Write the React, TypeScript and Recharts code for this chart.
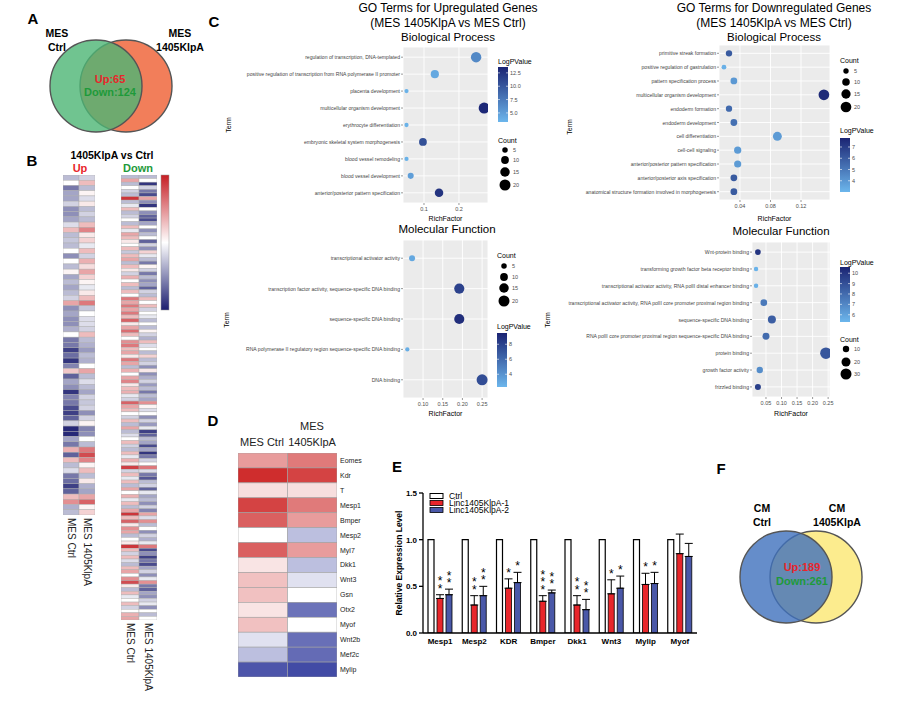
import React from "react";
import {
  ScatterChart,
  Scatter,
  XAxis,
  YAxis,
  ZAxis,
  CartesianGrid,
  BarChart,
  Bar,
  ErrorBar,
  LabelList,
} from "recharts";

const FONT = "'Liberation Sans', Arial, Helvetica, sans-serif";

// ---------- A / F venn
const vennASets = ["MES Ctrl", "MES 1405KlpA"];
const vennAUp = 65;
const vennADown = 124;
const vennFSets = ["CM Ctrl", "CM 1405KlpA"];
const vennFUp = 189;
const vennFDown = 261;

// ---------- B heatmap (scaled expression, -1..1)
const bCols = ["MES Ctrl", "MES 1405KlpA"];
const upCtrl = [
  -0.3, 0, -0.6, -0.4, -0.4, -0.2, -0.5, -0.5, -0.4, -0.15,
  0.3, -0.3, -0.25, -0.3, 0, -0.5, 0, -0.3, 0.05, -0.4,
  -0.3, -0.4, -0.3, -0.2, 0.4, -0.5, -0.4, -0.5, -0.5, -0.35,
  0, -0.6, -0.6, -0.85, -0.65, -0.9, -0.55, 0.25, -0.7, -0.4,
  -0.5, -0.9, -0.55, -0.6, -0.8, -0.85, -0.7, -0.2, -0.95, -0.95,
  -0.4, -0.6, 0.35, -0.7, 0.3, -0.3, -0.15, -0.6, -0.65, -0.85,
  -0.7, 0.3, 0.5, -0.35, -0.3,
];
const upKd = [
  -0.2, 0.3, -0.3, 0.05, -0.15, 0.1, -0.3, -0.2, -0.3, 0.3,
  0.55, 0.1, 0.2, -0.1, 0.3, -0.2, 0.35, 0.15, 0.4, 0.2,
  0.05, -0.1, 0.1, 0.3, 0.6, -0.25, 0, -0.15, -0.15, -0.2,
  0.3, -0.3, -0.35, -0.45, -0.3, -0.35, 0, 0.4, -0.3, -0.15,
  -0.3, -0.4, -0.2, -0.25, -0.2, -0.5, -0.2, 0.05, -0.55, -0.5,
  0, -0.3, 0.6, 0.8, 0.55, 0.05, 0.3, -0.3, 0.1, -0.35,
  -0.4, 0.4, 0.7, 0.05, 0.2,
];
const downCtrl = [
  -0.3, 0.4, -0.3, 0, -0.2, -0.3, 0.9, -0.3, -0.1, 0.3,
  -0.3, -0.2, 0, -0.3, 0.3, -0.1, 0.4, 0.3, 0.1, 0,
  0.3, -0.25, 0.3, 0.4, -0.3, 0.3, 0.1, -0.2, 0.35, 0,
  0.3, -0.3, 0.3, 0, 0.6, 0.4, 0.6, 0.4, 0.6, 0.3,
  0.7, 0.1, 0.4, 0.65, 0.3, 0, 0.5, 0.6, 0.3, 0.4,
  0.1, 0.6, 0.4, -0.3, 0.35, 0, 0.4, 0.55, 0.1, 0.3,
  0.35, -0.1, -0.2, 0.7, 0.4, 0.3, 0, -0.2, 0.3, -0.3,
  0.4, -0.3, -0.15, 0, 0.3, -0.2, -0.3, 0.3, -0.1, 0.35,
  0.1, 0.85, -0.2, 0.3, -0.1, 0.3, -0.3, 0.4, 0, 0.35,
  -0.1, 0.3, -0.3, 0.4, 0.9, 0.3, 0.7, 0.1, 0.5, 0.4,
  -0.3, 0, 0.1, 0.9, 0.3, -0.2, 0.3, -0.15, -0.3, 0.3,
  0.4, 0, 0.5, 0.8, 0.1, -0.3, 0.3, -0.1, 0, 0.3,
  -0.2, 0, 0.35, 0.4,
];
const downKd = [
  -0.3, 0, -0.9, -0.2, -0.6, -0.8, 0.4, -0.5, -0.9, 0,
  -0.5, -0.7, -0.8, -0.4, 0, -0.5, -0.3, 0, -0.7, -0.2,
  -0.5, 0.2, -0.1, -0.3, -0.6, 0.05, -0.2, -0.6, -0.3, -0.5,
  -0.4, -0.7, -0.2, -0.3, 0.3, 0, 0.3, -0.2, 0, -0.1,
  -0.3, 0, -0.3, 0.05, -0.2, -0.35, 0.3, -0.15, 0, -0.3,
  0.2, -0.3, -0.2, -0.5, 0.1, -0.5, -0.35, -0.2, -0.45, -0.3,
  -0.6, -0.3, -0.4, 0.5, 0.05, -0.15, 0, -0.5, -0.2, -0.45,
  -0.1, -0.85, -0.7, -0.3, -0.4, -0.8, -0.4, -0.9, -0.6, -0.2,
  0, 0.6, -0.15, -0.6, -0.75, -0.3, -0.2, -0.7, -0.1, -0.4,
  -0.3, -0.5, -0.2, -0.55, 0.4, -0.15, 0.5, -0.3, 0, -0.5,
  -0.2, -0.35, -0.1, 0.6, -0.8, -0.5, -0.85, -0.6, -0.8, -0.4,
  -0.2, -0.5, -0.1, 0.5, -0.6, -0.7, -0.4, -0.5, -0.2, -0.1,
  -0.5, 0, -0.3, 0,
];

// ---------- C GO dot plots
const upBpTerms = [
  "regulation of transcription, DNA-templated",
  "positive regulation of transcription from RNA polymerase II promoter",
  "placenta development",
  "multicellular organism development",
  "erythrocyte differentiation",
  "embryonic skeletal system morphogenesis",
  "blood vessel remodeling",
  "blood vessel development",
  "anterior/posterior pattern specification",
];
const upBpRich = [0.249, 0.131, 0.05, 0.272, 0.05, 0.097, 0.05, 0.062, 0.143];
const upBpCount = [18, 11, 3, 20, 3, 10, 3, 6, 12];
const upBpLogP = [6.5, 4.3, 3.6, 13.3, 3.6, 10.5, 3.6, 5.0, 12.5];

const downBpTerms = [
  "primitive streak formation",
  "positive regulation of gastrulation",
  "pattern specification process",
  "multicellular organism development",
  "endoderm formation",
  "endoderm development",
  "cell differentiation",
  "cell-cell signaling",
  "anterior/posterior pattern specification",
  "anterior/posterior axis specification",
  "anatomical structure formation involved in morphogenesis",
];
const downBpRich = [0.0256, 0.019, 0.032, 0.15, 0.0256, 0.032, 0.089, 0.037, 0.037, 0.032, 0.032];
const downBpCount = [7, 4, 8, 20, 7, 8, 14, 9, 9, 8, 8];
const downBpLogP = [6.0, 3.2, 4.0, 7.6, 5.5, 5.3, 3.9, 3.9, 3.9, 6.0, 6.0];

const upMfTerms = [
  "transcriptional activator activity",
  "transcription factor activity, sequence-specific DNA binding",
  "sequence-specific DNA binding",
  "RNA polymerase II regulatory region sequence-specific DNA binding",
  "DNA binding",
];
const upMfRich = [0.072, 0.192, 0.192, 0.06, 0.25];
const upMfCount = [6, 17, 17, 3, 20];
const upMfLogP = [3.0, 8.0, 9.0, 2.7, 7.5];

const downMfTerms = [
  "Wnt-protein binding",
  "transforming growth factor beta receptor binding",
  "transcriptional activator activity, RNA polII distal enhancer binding",
  "transcriptional activator activity, RNA polII core promoter proximal region binding",
  "sequence-specific DNA binding",
  "RNA polII core promoter proximal region sequence-specific DNA binding",
  "protein binding",
  "growth factor activity",
  "frizzled binding",
];
const downMfRich = [0.024, 0.018, 0.018, 0.043, 0.069, 0.05, 0.243, 0.03, 0.024];
const downMfCount = [8, 5, 5, 11, 16, 12, 33, 10, 9];
const downMfLogP = [10.0, 5.4, 5.5, 7.5, 8.5, 8.0, 8.8, 6.8, 9.6];

// ---------- D heatmap
const dGenes = ["Eomes", "Kdr", "T", "Mesp1", "Bmper", "Mesp2", "Myl7", "Dkk1", "Wnt3", "Gsn", "Otx2", "Myof", "Wnt2b", "Mef2c", "Mylip"];
const dCtrl = [0.45, 0.95, 0.15, 0.85, 0.72, 0, 0.72, 0.12, 0.28, 0.28, 0.12, 0.28, -0.15, -0.32, -0.85];
const dKd = [0.6, 0.85, 0.15, 0.6, 0.45, -0.32, 0.45, -0.32, -0.15, 0, -0.7, 0, -0.72, -0.74, -0.9];

// ---------- E qPCR
const eGenes = ["Mesp1", "Mesp2", "KDR", "Bmper", "Dkk1", "Wnt3", "Mylip", "Myof"];
const eCtrl = [1, 1, 1, 1, 1, 1, 1, 1];
const eKd1 = [0.37, 0.3, 0.48, 0.34, 0.3, 0.42, 0.52, 0.85];
const eKd1Err = [0.04, 0.1, 0.1, 0.06, 0.1, 0.15, 0.12, 0.21];
const eKd2 = [0.41, 0.4, 0.54, 0.43, 0.25, 0.48, 0.53, 0.82];
const eKd2Err = [0.06, 0.1, 0.11, 0.03, 0.11, 0.13, 0.12, 0.14];
const eKd1Stars = ["**", "**", "*", "***", "**", "*", "*", ""];
const eKd2Stars = ["**", "**", "*", "**", "**", "*", "*", ""];
const eSeries = ["Ctrl", "Linc1405KlpA-1", "Linc1405KlpA-2"];

// ---------- colour helpers
const mix = (a: number[], b: number[], t: number) =>
  `rgb(${a.map((x, i) => Math.round(x + (b[i] - x) * Math.max(0, Math.min(1, t)))).join(",")})`;
const WHITE = [255, 255, 255];
const divB = (v: number) => (v >= 0 ? mix(WHITE, [198, 30, 36], v) : mix(WHITE, [28, 30, 112], -v));
const divD = (v: number) => (v >= 0 ? mix(WHITE, [204, 34, 34], v) : mix(WHITE, [45, 55, 155], -v));
const GO_LO = [108, 182, 236];
const GO_HI = [27, 36, 115];
const goColor = (v: number, dom: number[]) => mix(GO_LO, GO_HI, (v - dom[0]) / (dom[1] - dom[0]));

// ---------- components
function Venn({ left, top, sets, fills }: { left: number; top: number; sets: string[]; fills: string[] }) {
  const data = sets.map((s, i) => ({ set: s, pos: i, y: 0 }));
  const circ = (fill: string, op: number) => (p: any) => (
    <circle cx={p.cx} cy={p.cy} r={46} fill={fill} fillOpacity={op} stroke="#555" strokeWidth={1.4} />
  );
  return (
    <div style={{ position: "absolute", left, top }}>
      <ScatterChart width={150} height={100} margin={{ top: 0, right: 0, bottom: 0, left: 0 }}>
        <XAxis type="number" dataKey="pos" domain={[-2, 3]} hide />
        <YAxis type="number" dataKey="y" domain={[-1, 1]} hide />
        <Scatter data={[data[1]]} isAnimationActive={false} shape={circ(fills[1], 1)} />
        <Scatter data={[data[0]]} isAnimationActive={false} shape={circ(fills[0], 0.8)} />
      </ScatterChart>
    </div>
  );
}

const rotTick = (names: string[]) => (p: any) => (
  <text
    x={p.x}
    y={p.y}
    transform={`rotate(90 ${p.x} ${p.y})`}
    fontSize={10}
    fill="#222"
    dominantBaseline="central"
    textAnchor="start"
  >
    {names[p.payload.value]}
  </text>
);

function HeatB({ left, top, width, height, ctrl, kd }: any) {
  const n = ctrl.length;
  const data: any[] = [];
  ctrl.forEach((v: number, r: number) => data.push({ col: 0, row: r, v }));
  kd.forEach((v: number, r: number) => data.push({ col: 1, row: r, v }));
  const cw = width / 2;
  const ch = height / n;
  return (
    <div style={{ position: "absolute", left, top }}>
      <ScatterChart width={width} height={height + 90} margin={{ top: 0, right: 0, bottom: 0, left: 0 }}>
        <XAxis
          type="number"
          dataKey="col"
          domain={[-0.5, 1.5]}
          ticks={[0, 1]}
          interval={0}
          axisLine={false}
          tickLine={false}
          tickSize={0}
          tickMargin={3}
          height={90}
          tick={rotTick(bCols)}
          allowDataOverflow
        />
        <YAxis type="number" dataKey="row" domain={[-0.5, n - 0.5]} reversed hide allowDataOverflow />
        <Scatter
          data={data}
          isAnimationActive={false}
          shape={(p: any) => (
            <rect
              x={p.cx - cw / 2}
              y={p.cy - ch / 2}
              width={cw}
              height={ch}
              fill={divB(p.payload.v)}
              stroke="#ADADAD"
              strokeWidth={0.45}
            />
          )}
        />
      </ScatterChart>
    </div>
  );
}

function HeatD() {
  const data: any[] = [];
  dCtrl.forEach((v, r) => data.push({ col: 0, row: r, v }));
  dKd.forEach((v, r) => data.push({ col: 1, row: r, v }));
  const w = 99;
  const h = 224;
  const cw = w / 2;
  const ch = h / dGenes.length;
  return (
    <div style={{ position: "absolute", left: 238, top: 453 }}>
      <ScatterChart width={w + 45} height={h} margin={{ top: 0, right: 0, bottom: 0, left: 0 }}>
        <XAxis type="number" dataKey="col" domain={[-0.5, 1.5]} hide allowDataOverflow />
        <YAxis
          type="number"
          dataKey="row"
          orientation="right"
          domain={[-0.5, dGenes.length - 0.5]}
          reversed
          ticks={dGenes.map((_, i) => i)}
          interval={0}
          width={45}
          tickFormatter={(v: number) => dGenes[v]}
          axisLine={false}
          tickLine={false}
          tickSize={0}
          tickMargin={3}
          tick={{ fontSize: 7, fill: "#222" }}
          allowDataOverflow
        />
        <Scatter
          data={data}
          isAnimationActive={false}
          shape={(p: any) => (
            <rect
              x={p.cx - cw / 2}
              y={p.cy - ch / 2}
              width={cw}
              height={ch}
              fill={divD(p.payload.v)}
              stroke="#A0A0A0"
              strokeWidth={0.6}
            />
          )}
        />
      </ScatterChart>
    </div>
  );
}

function GoDots({ terms, rich, count, logp, left, x0, x1, y0, y1, xDomain, xTicks, dec, cDomain, k, axisH }: any) {
  const n = terms.length;
  const data = terms.map((t: string, i: number) => ({
    term: t,
    idx: i + 1,
    rich: rich[i],
    count: count[i],
    logp: logp[i],
  }));
  const maxC = Math.max(...count);
  const termTick = (p: any) => (
    <text
      x={p.x}
      y={p.y}
      textAnchor="end"
      dominantBaseline="central"
      fontSize={5.1}
      fill="#444"
    >
      {terms[p.payload.value - 1]}
    </text>
  );
  return (
    <div style={{ position: "absolute", left, top: y0 }}>
      <ScatterChart
        width={x1 - left + 8}
        height={y1 - y0 + axisH}
        margin={{ top: 0, right: 8, bottom: 0, left: 0 }}
      >
        <CartesianGrid fill="#EBEBEB" stroke="#FFFFFF" strokeWidth={0.9} />
        <XAxis
          type="number"
          dataKey="rich"
          domain={xDomain}
          ticks={xTicks}
          interval={0}
          allowDataOverflow
          tickFormatter={(v: number) => v.toFixed(dec)}
          tick={{ fontSize: 5.5, fill: "#4D4D4D" }}
          tickSize={2}
          tickMargin={2}
          tickLine={{ stroke: "#333", strokeWidth: 0.5 }}
          axisLine={false}
          height={axisH}
          label={{ value: "RichFactor", position: "insideBottom", offset: 0, fontSize: 7, fill: "#000" }}
        />
        <YAxis
          type="number"
          dataKey="idx"
          domain={[0.4, n + 0.6]}
          ticks={terms.map((_: string, i: number) => i + 1)}
          interval={0}
          reversed
          allowDataOverflow
          width={x0 - left}
          tick={termTick}
          tickSize={2}
          tickMargin={1}
          tickLine={{ stroke: "#333", strokeWidth: 0.5 }}
          axisLine={false}
        />
        <ZAxis type="number" dataKey="count" domain={[0, maxC]} range={[0, k * maxC]} />
        <Scatter
          data={data}
          isAnimationActive={false}
          shape={(p: any) => {
            const r = p.size ? Math.sqrt(p.size / Math.PI) : (p.width || 6) / 2;
            return <circle cx={p.cx} cy={p.cy} r={r} fill={goColor(p.payload.logp, cDomain)} />;
          }}
        />
      </ScatterChart>
    </div>
  );
}

function GoLegend({ id, cb, cDomain, cTicks, cDec, cnt, k }: any) {
  const [lo, hi] = cDomain;
  const yOf = (v: number) => cb.y + ((hi - v) / (hi - lo)) * cb.h;
  return (
    <g>
      <defs>
        <linearGradient id={id} x1="0" y1="0" x2="0" y2="1">
          <stop offset="0%" stopColor={mix(GO_LO, GO_HI, 1)} />
          <stop offset="100%" stopColor={mix(GO_LO, GO_HI, 0)} />
        </linearGradient>
      </defs>
      <text x={cb.x} y={cb.titleY} fontSize={7} dominantBaseline="central">LogPValue</text>
      <rect x={cb.x} y={cb.y} width={10} height={cb.h} fill={`url(#${id})`} />
      {cTicks.map((t: number) => (
        <g key={t}>
          <line x1={cb.x} x2={cb.x + 2} y1={yOf(t)} y2={yOf(t)} stroke="#fff" strokeWidth={0.6} />
          <line x1={cb.x + 8} x2={cb.x + 10} y1={yOf(t)} y2={yOf(t)} stroke="#fff" strokeWidth={0.6} />
          <text x={cb.x + 12} y={yOf(t)} fontSize={5.5} fill="#4D4D4D" dominantBaseline="central">
            {t.toFixed(cDec)}
          </text>
        </g>
      ))}
      <text x={cnt.titleX} y={cnt.titleY} fontSize={7} dominantBaseline="central">Count</text>
      {cnt.vals.map((v: number, i: number) => (
        <g key={v}>
          <circle cx={cnt.x} cy={cnt.ys[i]} r={Math.sqrt((k * v) / Math.PI)} fill="#000" />
          <text x={cnt.x + 8} y={cnt.ys[i]} fontSize={5.5} fill="#4D4D4D" dominantBaseline="central">
            {v}
          </text>
        </g>
      ))}
    </g>
  );
}

// significance stars stacked above the error bar, as one text element per bar
const starLabel = (vals: number[], errs: number[]) => (p: any) => {
  const vb = p.viewBox || {};
  const x = Number(vb.x ?? p.x);
  const y = Number(vb.y ?? p.y);
  const w = Number(vb.width ?? p.width);
  const h = Number(vb.height ?? p.height);
  const i = p.index ?? 0;
  const s = String(p.value ?? "");
  if (!s) return null;
  const top = y - (errs[i] / vals[i]) * Math.abs(h);
  const cx = x + w / 2;
  return (
    <text x={cx} y={top - 2} textAnchor="middle" fontSize={12} fill="#000">
      {s.split("").map((c, j) => (
        <tspan key={j} x={cx} dy={j === 0 ? 0 : -7.5}>
          {c}
        </tspan>
      ))}
    </text>
  );
};

function QpcrChart() {
  const data = eGenes.map((g, i) => ({
    gene: g,
    ctrl: eCtrl[i],
    kd1: eKd1[i],
    kd2: eKd2[i],
    e1: [0, eKd1Err[i]],
    e2: [0, eKd2Err[i]],
    s1: eKd1Stars[i],
    s2: eKd2Stars[i],
  }));
  const bold = { fontSize: 8, fontWeight: 700, fill: "#000" };
  return (
    <div style={{ position: "absolute", left: 390, top: 480 }}>
      <BarChart
        width={310}
        height={173}
        data={data}
        margin={{ top: 13, right: 3, bottom: 0, left: 0 }}
        barSize={6}
        barGap={3}
      >
        <XAxis
          dataKey="gene"
          interval={0}
          height={20}
          axisLine={{ stroke: "#000", strokeWidth: 1.3 }}
          tickLine={false}
          tickSize={3}
          tick={bold}
        />
        <YAxis
          domain={[0, 1.5]}
          ticks={[0, 0.5, 1, 1.5]}
          allowDataOverflow
          width={33}
          tickFormatter={(v: number) => v.toFixed(1)}
          axisLine={{ stroke: "#000", strokeWidth: 1.3 }}
          tickLine={{ stroke: "#000", strokeWidth: 1.3 }}
          tickSize={4}
          tickMargin={2}
          tick={bold}
        />
        <Bar dataKey="ctrl" fill="#FFFFFF" stroke="#000" strokeWidth={1.2} isAnimationActive={false} />
        <Bar dataKey="kd1" fill="#E8262B" stroke="#000" strokeWidth={0.8} isAnimationActive={false}>
          <ErrorBar dataKey="e1" width={4} stroke="#000" strokeWidth={1} />
          <LabelList dataKey="s1" content={starLabel(eKd1, eKd1Err)} />
        </Bar>
        <Bar dataKey="kd2" fill="#4A58A8" stroke="#000" strokeWidth={0.8} isAnimationActive={false}>
          <ErrorBar dataKey="e2" width={4} stroke="#000" strokeWidth={1} />
          <LabelList dataKey="s2" content={starLabel(eKd2, eKd2Err)} />
        </Bar>
      </BarChart>
    </div>
  );
}

const T = ({ x, y, s, size = 10, w = 400, fill = "#000", anchor = "middle", rot }: any) => (
  <text
    x={x}
    y={y}
    fontSize={size}
    fontWeight={w}
    fill={fill}
    textAnchor={anchor}
    dominantBaseline="central"
    transform={rot ? `rotate(${rot} ${x} ${y})` : undefined}
  >
    {s}
  </text>
);

const goTL = { cDomain: [3.3, 13.6], k: 4.75 };
const goTR = { cDomain: [3.0, 7.8], k: 4.5 };
const goBL = { cDomain: [2.3, 9.5], k: 4.75 };
const goBR = { cDomain: [5.3, 10.6], k: 3.17 };

function Overlay() {
  const split = (s: string) => [s.split(" ")[0], s.split(" ").slice(1).join(" ")];
  const [aL1, aL2] = split(vennASets[0]);
  const [aR1, aR2] = split(vennASets[1]);
  const [fL1, fL2] = split(vennFSets[0]);
  const [fR1, fR2] = split(vennFSets[1]);
  return (
    <svg
      width={898}
      height={709}
      style={{ position: "absolute", left: 0, top: 0, pointerEvents: "none" }}
      fontFamily={FONT}
    >
      <defs>
        <linearGradient id="bbar" x1="0" y1="0" x2="0" y2="1">
          <stop offset="0%" stopColor={divB(1)} />
          <stop offset="50%" stopColor="#FFFFFF" />
          <stop offset="100%" stopColor={divB(-1)} />
        </linearGradient>
      </defs>
      {/* panel letters */}
      <T x={33} y={18} s="A" size={15} w={700} />
      <T x={32} y={160} s="B" size={15} w={700} />
      <T x={214} y={21} s="C" size={15} w={700} />
      <T x={213} y={420} s="D" size={15} w={700} />
      <T x={397} y={466} s="E" size={15} w={700} />
      <T x={721} y={468} s="F" size={15} w={700} />

      {/* A */}
      <T x={57} y={33} s={aL1} size={10.5} w={700} />
      <T x={57} y={47} s={aL2} size={10.5} w={700} />
      <T x={180} y={33} s={aR1} size={10.5} w={700} />
      <T x={180} y={47} s={aR2} size={10.5} w={700} />
      <T x={110} y={79} s={`Up:${vennAUp}`} size={11} w={700} fill="#E8262B" />
      <T x={110} y={92} s={`Down:${vennADown}`} size={11} w={700} fill="#1E9A3A" />

      {/* B */}
      <T x={112} y={155} s="1405KlpA vs Ctrl" size={10.5} w={700} />
      <T x={80} y={168} s="Up" size={11} w={700} fill="#E8262B" />
      <T x={138} y={168} s="Down" size={11} w={700} fill="#1E9A3A" />
      <rect x={161} y={175} width={8} height={135} fill="url(#bbar)" stroke="#999" strokeWidth={0.5} />

      {/* C titles */}
      <T x={448} y={8} s="GO Terms for Upregulated Genes" size={12} />
      <T x={448} y={22.5} s="(MES 1405KlpA vs MES Ctrl)" size={12} />
      <T x={448} y={37} s="Biological Process" size={11.5} />
      <T x={774} y={8} s="GO Terms for Downregulated Genes" size={12} />
      <T x={774} y={22.5} s="(MES 1405KlpA vs MES Ctrl)" size={12} />
      <T x={774} y={37} s="Biological Process" size={11.5} />
      <T x={447} y={229} s="Molecular Function" size={11.5} />
      <T x={781} y={231} s="Molecular Function" size={11.5} />
      <T x={228} y={125} s="Term" size={7} rot={-90} />
      <T x={569} y={127} s="Term" size={7} rot={-90} />
      <T x={226} y={320} s="Term" size={7} rot={-90} />
      <T x={547} y={320} s="Term" size={7} rot={-90} />

      <GoLegend
        id="gTL"
        cb={{ x: 498, y: 67, h: 55, titleY: 61 }}
        cDomain={goTL.cDomain}
        cTicks={[5, 7.5, 10, 12.5]}
        cDec={1}
        cnt={{ titleX: 498, titleY: 140, x: 505, ys: [150, 160, 172, 185], vals: [5, 10, 15, 20] }}
        k={goTL.k}
      />
      <GoLegend
        id="gTR"
        cb={{ x: 840, y: 138, h: 54, titleY: 130 }}
        cDomain={goTR.cDomain}
        cTicks={[4, 5, 6, 7]}
        cDec={0}
        cnt={{ titleX: 840, titleY: 60, x: 846, ys: [71, 82, 94, 107], vals: [5, 10, 15, 20] }}
        k={goTR.k}
      />
      <GoLegend
        id="gBL"
        cb={{ x: 497, y: 333, h: 54, titleY: 326 }}
        cDomain={goBL.cDomain}
        cTicks={[4, 6, 8]}
        cDec={0}
        cnt={{ titleX: 497, titleY: 255, x: 504, ys: [266, 277, 288, 301], vals: [5, 10, 15, 20] }}
        k={goBL.k}
      />
      <GoLegend
        id="gBR"
        cb={{ x: 840, y: 267, h: 55, titleY: 262 }}
        cDomain={goBR.cDomain}
        cTicks={[6, 7, 8, 9, 10]}
        cDec={0}
        cnt={{ titleX: 840, titleY: 339, x: 846, ys: [349, 362, 374], vals: [10, 20, 30] }}
        k={goBR.k}
      />

      {/* D */}
      <T x={312} y={426} s="MES" size={11} fill="#222" />
      <T x={262} y={442} s="MES Ctrl" size={11} fill="#222" />
      <T x={312} y={442} s="1405KlpA" size={11} fill="#222" />

      {/* E legend + axis title */}
      <rect x={430} y={493.5} width={13} height={5} fill="#fff" stroke="#000" strokeWidth={1} />
      <rect x={430} y={500.5} width={13} height={5} fill="#E8262B" stroke="#000" strokeWidth={0.8} />
      <rect x={430} y={507.5} width={13} height={5} fill="#4A58A8" stroke="#000" strokeWidth={0.8} />
      <T x={449} y={496} s={eSeries[0]} size={8.5} anchor="start" />
      <T x={449} y={503} s={eSeries[1]} size={8.5} anchor="start" />
      <T x={449} y={510} s={eSeries[2]} size={8.5} anchor="start" />
      <T x={399} y={563} s="Relative Expression Level" size={8.5} w={700} rot={-90} />

      {/* F */}
      <T x={762} y={508} s={fL1} size={10.5} w={700} />
      <T x={762} y={522} s={fL2} size={10.5} w={700} />
      <T x={837} y={508} s={fR1} size={10.5} w={700} />
      <T x={837} y={522} s={fR2} size={10.5} w={700} />
      <T x={802} y={567} s={`Up:${vennFUp}`} size={11} w={700} fill="#E8262B" />
      <T x={802} y={581} s={`Down:${vennFDown}`} size={11} w={700} fill="#1E9A3A" />
    </svg>
  );
}

export default function App() {
  return (
    <div
      style={{
        position: "relative",
        width: 898,
        height: 709,
        background: "#fff",
        fontFamily: FONT,
        overflow: "hidden",
      }}
    >
      <style>{"body{margin:0}"}</style>
      <Venn left={36} top={36} sets={vennASets} fills={["#4CB574", "#F27E5A"]} />
      <Venn left={726} top={527} sets={vennFSets} fills={["#3F70BD", "#FCEC8E"]} />

      <HeatB left={63} top={175} width={32} height={340} ctrl={upCtrl} kd={upKd} />
      <HeatB left={121} top={175} width={36} height={445} ctrl={downCtrl} kd={downKd} />

      <GoDots
        terms={upBpTerms}
        rich={upBpRich}
        count={upBpCount}
        logp={upBpLogP}
        left={215}
        x0={403}
        x1={488}
        y0={47}
        y1={203}
        xDomain={[0.04, 0.283]}
        xTicks={[0.1, 0.2]}
        dec={1}
        cDomain={goTL.cDomain}
        k={goTL.k}
        axisH={18}
      />
      <GoDots
        terms={downBpTerms}
        rich={downBpRich}
        count={downBpCount}
        logp={downBpLogP}
        left={572}
        x0={719}
        x1={830}
        y0={45}
        y1={200}
        xDomain={[0.0125, 0.158]}
        xTicks={[0.04, 0.08, 0.12]}
        dec={2}
        cDomain={goTR.cDomain}
        k={goTR.k}
        axisH={21}
      />
      <GoDots
        terms={upMfTerms}
        rich={upMfRich}
        count={upMfCount}
        logp={upMfLogP}
        left={225}
        x0={403}
        x1={488}
        y0={240}
        y1={398}
        xDomain={[0.049, 0.265]}
        xTicks={[0.1, 0.15, 0.2, 0.25]}
        dec={2}
        cDomain={goBL.cDomain}
        k={goBL.k}
        axisH={18}
      />
      <GoDots
        terms={downMfTerms}
        rich={downMfRich}
        count={downMfCount}
        logp={downMfLogP}
        left={535}
        x0={752}
        x1={830}
        y0={242}
        y1={397}
        xDomain={[0.005, 0.256]}
        xTicks={[0.05, 0.1, 0.15, 0.2, 0.25]}
        dec={2}
        cDomain={goBR.cDomain}
        k={goBR.k}
        axisH={19}
      />

      <HeatD />
      <QpcrChart />
      <Overlay />
    </div>
  );
}
